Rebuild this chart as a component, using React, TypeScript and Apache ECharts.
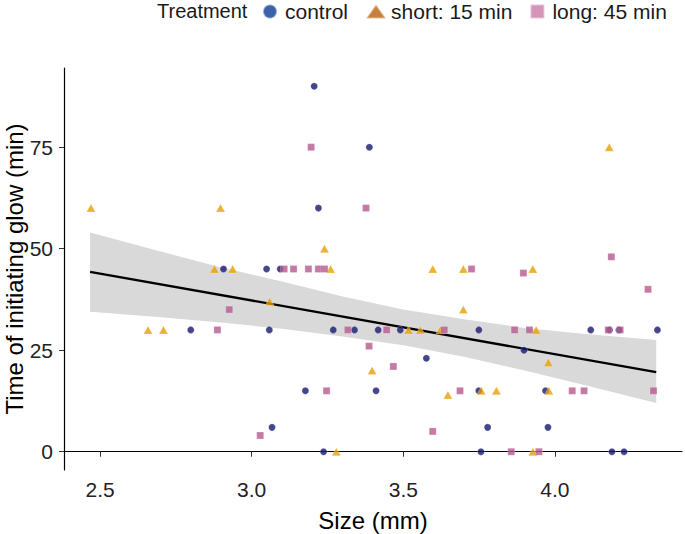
import React, { useEffect, useRef } from "react";
import * as echarts from "echarts";

// ---- data ----
const controlSize = [3.206, 3.388, 3.22, 2.907, 3.049, 3.094, 2.799, 3.058, 3.269, 3.339, 3.417, 3.49, 3.749, 4.118, 4.18, 4.211, 4.338, 3.898, 3.576, 3.177, 3.41, 3.749, 3.969, 3.067, 3.778, 3.977, 3.237, 3.756, 4.188, 4.228];
const controlTime = [90, 75, 60, 45, 45, 45, 30, 30, 30, 30, 30, 30, 30, 30, 30, 30, 30, 25, 23, 15, 15, 15, 15, 6, 6, 6, 0, 0, 0, 0];

const shortSize = [2.47, 2.897, 3.24, 4.179, 2.877, 2.937, 3.26, 3.597, 3.698, 3.927, 3.059, 3.698, 2.658, 2.709, 3.517, 3.556, 3.622, 3.938, 3.978, 3.397, 3.647, 3.757, 3.807, 3.98, 3.279, 3.927];
const shortTime = [60, 60, 50, 75, 45, 45, 45, 45, 45, 45, 37, 35, 30, 30, 30, 30, 30, 30, 22, 20, 14, 15, 15, 15, 0, 0];

const longSize = [3.196, 3.377, 4.186, 3.107, 3.138, 3.187, 3.22, 3.24, 3.725, 3.896, 4.307, 2.926, 2.887, 3.317, 3.445, 3.635, 3.867, 3.916, 4.176, 4.215, 3.387, 3.467, 3.247, 3.687, 4.057, 4.096, 4.325, 3.028, 3.597, 3.856, 3.947];
const longTime = [75, 60, 48, 45, 45, 45, 45, 45, 45, 44, 40, 35, 30, 30, 30, 30, 30, 30, 30, 30, 26, 21, 15, 15, 15, 15, 15, 4, 5, 0, 0];

const fitSize = [2.467, 4.334];
const fitTime = [44.3, 19.6];

const bandSize = [2.467, 2.7, 2.9, 3.1, 3.3, 3.5, 3.7, 3.9, 4.1, 4.334];
const bandLower = [34.5, 33.1, 31.8, 30.3, 28.4, 26.2, 23.4, 20.0, 16.4, 12.0];
const bandUpper = [54.0, 49.3, 45.4, 41.9, 38.2, 35.0, 32.6, 30.5, 29.0, 27.5];

const xTicks = [2.5, 3.0, 3.5, 4.0];
const yTicks = [0, 25, 50, 75];

const legendNames = ["control", "short: 15 min", "long: 45 min"];

const FONT = "'Liberation Sans', Arial, sans-serif";

export default function App() {
  const ref = useRef<HTMLDivElement>(null);
  useEffect(() => {
    document.body.style.margin = "0";
    if (!ref.current) return;
    const chart = echarts.init(ref.current, undefined, { renderer: "svg" });
    const zip = (xs: number[], ys: number[]) => xs.map((x, i) => [x, ys[i]]);
    const bandData = bandSize.map((x, i) => [x, bandLower[i], bandUpper[i]]);
    const option: any = {
      animation: false,
      textStyle: { fontFamily: FONT },
      grid: { left: 64, right: 3, top: 68, bottom: 64, outerBoundsMode: "none" },
      legend: {
        left: 257,
        top: -4,
        width: 428,
        itemWidth: 20,
        itemHeight: 14,
        itemGap: 17,
        textStyle: { fontFamily: FONT, fontSize: 21, color: "#1a1a1a" },
        data: [
          { name: legendNames[0], icon: "circle", itemStyle: { color: "#0C3B93" } },
          { name: legendNames[1], icon: "triangle", itemStyle: { color: "#B8620C" } },
          { name: legendNames[2], icon: "path://M0,0H10V10H0Z", itemStyle: { color: "#CC79A7" } },
        ],
      },
      graphic: [
        {
          type: "text",
          left: 157,
          top: -1,
          style: { text: "Treatment", fontFamily: FONT, fontSize: 20, fill: "#1a1a1a", lineHeight: 24 },
        },
      ],
      xAxis: {
        type: "value",
        min: 2.381,
        max: 4.419,
        name: "Size (mm)",
        nameLocation: "middle",
        nameGap: 38,
        nameMoveOverlap: false,
        nameTextStyle: { fontFamily: FONT, fontSize: 24, color: "#000" },
        axisLine: { show: true, lineStyle: { color: "#000", width: 1.2 } },
        axisTick: { show: true, length: 5, customValues: xTicks, lineStyle: { color: "#333" } },
        axisLabel: {
          customValues: xTicks,
          formatter: (v: number) => v.toFixed(1),
          fontFamily: FONT,
          fontSize: 21,
          color: "#222",
          margin: 9,
        },
        splitLine: { show: false },
      },
      yAxis: {
        type: "value",
        min: -4.5,
        max: 94.5,
        name: "Time of initiating glow (min)",
        nameLocation: "middle",
        nameGap: 38,
        nameMoveOverlap: false,
        nameTextStyle: { fontFamily: FONT, fontSize: 24, color: "#000" },
        axisLine: { show: true, lineStyle: { color: "#000", width: 1.2 } },
        axisTick: { show: true, length: 5, customValues: yTicks, lineStyle: { color: "#333" } },
        axisLabel: {
          customValues: yTicks,
          fontFamily: FONT,
          fontSize: 21,
          color: "#222",
          margin: 11,
        },
        splitLine: { show: false },
      },
      series: [
        {
          type: "custom",
          name: "band",
          data: bandData,
          silent: true,
          z: 1,
          renderItem: (params: any, api: any) => {
            if (params.dataIndex !== 0) return null;
            const up = bandData.map((d) => api.coord([d[0], d[2]]));
            const lo = bandData.map((d) => api.coord([d[0], d[1]])).reverse();
            return {
              type: "polygon",
              shape: { points: up.concat(lo), smooth: 0 },
              style: { fill: "#d9d9d9" },
            };
          },
        },
        {
          type: "line",
          name: "fit",
          data: zip(fitSize, fitTime),
          symbol: "none",
          z: 2,
          lineStyle: { color: "#000", width: 2.4 },
        },
        {
          type: "scatter",
          name: legendNames[0],
          data: zip(controlSize, controlTime),
          symbol: "circle",
          symbolSize: 7,
          z: 3,
          itemStyle: { color: "#16166E", borderColor: "rgba(255,255,255,0.6)", borderWidth: 0.5 },
        },
        {
          type: "scatter",
          name: legendNames[1],
          data: zip(shortSize, shortTime),
          symbol: "triangle",
          symbolSize: [9, 8],
          z: 4,
          itemStyle: { color: "#E69F00", borderColor: "rgba(255,255,255,0.6)", borderWidth: 0.5 },
        },
        {
          type: "scatter",
          name: legendNames[2],
          data: zip(longSize, longTime),
          symbol: "rect",
          symbolSize: 7,
          z: 5,
          itemStyle: { color: "#B6598F", borderColor: "rgba(255,255,255,0.6)", borderWidth: 0.5 },
        },
      ],
    };
    chart.setOption(option);
    return () => chart.dispose();
  }, []);
  return (
    <div
      ref={ref}
      style={{ position: "absolute", left: 0, top: 0, width: 685, height: 534, background: "#fff" }}
    />
  );
}
